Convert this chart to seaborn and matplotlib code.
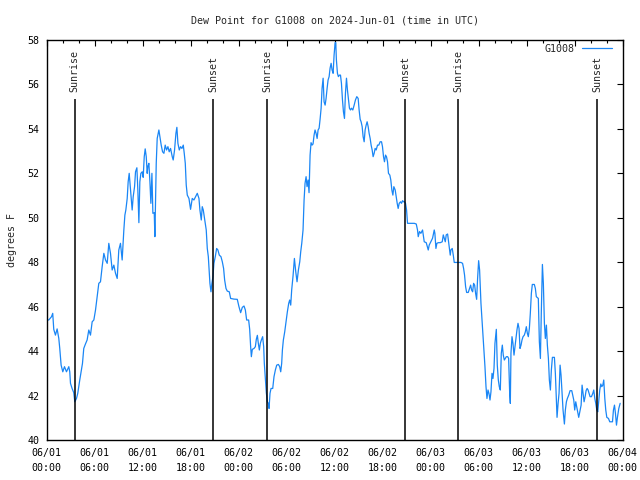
# Dew point chart for station G1008, 2024-Jun-01 .. 06/04 (UTC)

import pandas as pd
import matplotlib
matplotlib.use("Agg")
import matplotlib.pyplot as plt
import matplotlib.dates as mdates
import seaborn as sns

# ==========================================
# DATA (hours after 2024-06-01 00:00 UTC, degrees F)
# ==========================================

hours = [
    0.10, 0.25, 0.60, 0.75, 0.88, 1.09, 1.30, 1.51, 1.63, 1.80, 2.01, 2.22, 2.47, 2.76, 2.88, 2.97,
    3.17, 3.38, 3.51, 3.72, 3.88, 4.13, 4.30, 4.47, 4.63, 4.84, 5.05, 5.26, 5.47, 5.68, 5.89, 6.10,
    6.30, 6.51, 6.72, 6.93, 7.14, 7.35, 7.56, 7.76, 7.97, 8.18, 8.39, 8.60, 8.81, 9.01, 9.22, 9.43,
    9.64, 9.77, 9.89, 10.06, 10.18, 10.31, 10.43, 10.56, 10.68, 10.81, 10.98, 11.10, 11.27, 11.39,
    11.52, 11.64, 11.77, 11.94, 12.06, 12.19, 12.31, 12.44, 12.56, 12.64, 12.77, 12.90, 13.02, 13.15,
    13.27, 13.44, 13.52, 13.69, 13.81, 14.02, 14.15, 14.31, 14.48, 14.65, 14.81, 14.98, 15.15, 15.31,
    15.48, 15.69, 15.81, 15.98, 16.15, 16.27, 16.40, 16.57, 16.73, 16.90, 17.07, 17.19, 17.32, 17.44,
    17.57, 17.78, 17.98, 18.19, 18.40, 18.61, 18.82, 19.03, 19.15, 19.32, 19.44, 19.57, 19.69, 19.82,
    19.94, 20.07, 20.20, 20.28, 20.40, 20.53, 20.65, 20.78, 20.90, 21.07, 21.24, 21.40, 21.57, 21.78,
    21.95, 22.11, 22.24, 22.41, 22.57, 22.82, 22.99, 23.41, 23.82, 24.03, 24.24, 24.45, 24.66, 24.83,
    24.99, 25.24, 25.37, 25.49, 25.58, 25.70, 25.91, 26.08, 26.20, 26.33, 26.45, 26.58, 26.70, 26.83,
    26.99, 27.12, 27.20, 27.33, 27.45, 27.58, 27.70, 27.79, 27.91, 28.04, 28.25, 28.41, 28.58, 28.75,
    28.96, 29.12, 29.25, 29.37, 29.46, 29.58, 29.75, 29.92, 30.08, 30.25, 30.37, 30.50, 30.62, 30.79,
    30.96, 31.13, 31.29, 31.46, 31.63, 31.75, 31.88, 32.04, 32.17, 32.29, 32.42, 32.54, 32.67, 32.79,
    32.92, 33.04, 33.17, 33.29, 33.42, 33.54, 33.67, 33.80, 33.92, 34.05, 34.17, 34.30, 34.42, 34.55,
    34.67, 34.80, 34.92, 35.05, 35.17, 35.30, 35.42, 35.55, 35.67, 35.80, 35.92, 36.05, 36.13, 36.21,
    36.34, 36.46, 36.59, 36.72, 36.84, 36.97, 37.09, 37.22, 37.34, 37.47, 37.59, 37.72, 37.84, 37.97,
    38.09, 38.26, 38.43, 38.59, 38.76, 38.93, 39.05, 39.18, 39.30, 39.43, 39.55, 39.68, 39.80, 39.93,
    40.05, 40.18, 40.30, 40.43, 40.55, 40.68, 40.80, 40.93, 41.05, 41.18, 41.35, 41.51, 41.68, 41.85,
    41.97, 42.10, 42.22, 42.35, 42.47, 42.60, 42.72, 42.89, 43.01, 43.14, 43.27, 43.39, 43.56, 43.68,
    43.81, 43.93, 44.06, 44.23, 44.35, 44.48, 44.60, 44.73, 44.85, 44.98, 45.10, 45.52, 45.94, 46.19,
    46.35, 46.44, 46.60, 46.77, 46.98, 47.19, 47.44, 47.69, 47.81, 48.02, 48.23, 48.44, 48.52, 48.65,
    48.77, 48.94, 49.19, 49.44, 49.57, 49.69, 49.82, 49.94, 50.11, 50.23, 50.36, 50.44, 50.52, 50.69,
    50.82, 50.94, 51.36, 51.78, 51.98, 52.11, 52.23, 52.36, 52.49, 52.69, 52.86, 52.99, 53.11, 53.24,
    53.36, 53.49, 53.61, 53.74, 53.86, 53.99, 54.11, 54.20, 54.28, 54.40, 54.53, 54.65, 54.78, 54.91,
    55.03, 55.16, 55.28, 55.41, 55.53, 55.66, 55.78, 55.91, 56.03, 56.20, 56.32, 56.45, 56.57, 56.70,
    56.82, 56.95, 57.07, 57.20, 57.32, 57.45, 57.62, 57.74, 57.87, 57.95, 58.03, 58.16, 58.28, 58.41,
    58.53, 58.66, 58.78, 58.91, 59.04, 59.16, 59.29, 59.41, 59.54, 59.70, 59.83, 59.95, 60.08, 60.20,
    60.33, 60.45, 60.58, 60.70, 60.95, 61.08, 61.20, 61.45, 61.58, 61.71, 61.83, 61.96, 62.08, 62.21,
    62.33, 62.46, 62.58, 62.71, 62.83, 62.96, 63.08, 63.21, 63.46, 63.58, 63.71, 63.79, 63.92, 64.04,
    64.17, 64.29, 64.42, 64.54, 64.71, 64.83, 64.96, 65.08, 65.25, 65.42, 65.63, 65.75, 65.88, 66.00,
    66.13, 66.25, 66.38, 66.50, 66.63, 66.80, 66.92, 67.05, 67.17, 67.30, 67.42, 67.55, 67.67, 67.80,
    67.92, 68.09, 68.26, 68.38, 68.51, 68.63, 68.76, 68.88, 69.01, 69.13, 69.26, 69.38, 69.51, 69.63,
    69.76, 69.88, 70.01, 70.22, 70.38, 70.55, 70.72, 70.84, 70.97, 71.09, 71.22, 71.34, 71.51, 71.68,
]

dewpoint = [
    45.40, 45.40, 45.55, 45.70, 44.98, 44.72, 45.00, 44.57, 44.12, 43.37, 43.07, 43.30, 43.07, 43.30, 43.07, 42.55,
    42.32, 42.13, 41.72, 41.87, 42.10, 42.70, 43.07, 43.45, 44.12, 44.32, 44.50, 44.95, 44.72, 45.32, 45.40, 45.85,
    46.45, 47.05, 47.12, 47.80, 48.40, 48.10, 47.95, 48.85, 48.40, 47.65, 47.87, 47.50, 47.27, 48.55, 48.85, 48.10,
    49.45, 50.12, 50.35, 50.87, 51.62, 52.00, 51.47, 50.87, 50.35, 50.95, 51.40, 52.07, 52.25, 51.25,
    49.78, 51.62, 52.00, 52.07, 51.82, 52.75, 53.10, 52.75, 52.00, 52.30, 52.45, 51.62, 50.65, 52.00,
    50.20, 50.23, 49.15, 52.45, 53.57, 53.95, 53.65, 53.27, 52.97, 52.90, 53.27, 53.05, 53.20, 52.97,
    53.12, 52.75, 52.60, 53.05, 53.80, 54.07, 53.35, 53.05, 53.20, 53.12, 53.27, 52.90, 52.45, 51.47,
    51.02, 50.87, 50.38, 50.87, 50.80, 50.95, 51.10, 50.87, 50.35, 49.90, 50.50, 50.35, 50.05, 49.75,
    49.45, 48.62, 48.25, 47.80, 47.05, 46.67, 47.05, 47.35, 47.95, 48.25, 48.62, 48.55, 48.32, 48.25,
    48.02, 47.72, 47.20, 46.82, 46.70, 46.67, 46.37, 46.34, 46.33, 46.00, 45.73, 45.97, 46.03, 45.85,
    45.40, 45.40, 44.98, 44.20, 43.75, 44.08, 44.12, 44.20, 44.53, 44.71, 44.35, 44.05, 44.35, 44.50,
    44.65, 44.20, 43.45, 42.77, 42.13, 41.72, 41.65, 41.42, 42.10, 42.32, 42.32, 42.85, 43.15, 43.37,
    43.40, 43.30, 43.07, 43.45, 44.05, 44.50, 44.87, 45.32, 45.77, 46.15, 46.30, 46.07, 46.75, 47.38,
    48.17, 47.57, 47.12, 47.65, 48.02, 48.47, 48.85, 49.45, 50.80, 51.55, 51.85, 51.40, 51.70, 51.13,
    52.82, 53.38, 53.27, 53.32, 53.72, 53.95, 53.80, 53.57, 53.95, 54.03, 54.43, 54.93, 55.83, 56.28,
    55.22, 55.07, 55.37, 55.83, 56.20, 56.35, 56.73, 56.95, 56.65, 56.50, 57.32, 57.88, 57.88, 57.10,
    56.50, 56.35, 56.42, 56.42, 56.05, 55.30, 54.77, 54.47, 55.60, 56.28, 55.75, 55.30, 54.93, 54.85,
    54.93, 54.85, 55.07, 55.30, 55.45, 55.37, 54.85, 54.43, 54.32, 54.10, 53.65, 53.42, 53.95, 54.17,
    54.32, 54.10, 53.80, 53.57, 53.27, 53.05, 52.75, 52.90, 53.12, 53.05, 53.27, 53.27, 53.42, 53.42,
    53.20, 52.75, 52.52, 52.82, 52.75, 52.52, 52.00, 51.92, 51.70, 51.25, 51.02, 51.40, 51.25, 50.95,
    50.65, 50.42, 50.65, 50.72, 50.65, 50.77, 50.72, 50.72, 50.65, 50.35, 49.75, 49.75, 49.75, 49.72,
    49.45, 49.15, 49.38, 49.30, 49.45, 48.92, 48.88, 48.55, 48.77, 48.92, 49.08, 49.45, 49.30, 48.62,
    48.85, 48.88, 48.88, 48.92, 49.23, 49.08, 48.92, 49.23, 49.27, 48.92, 48.55, 48.32, 48.55, 48.62,
    48.32, 47.99, 47.99, 47.99, 47.95, 47.72, 47.42, 46.90, 46.64, 46.64, 46.82, 46.97, 46.75, 46.67,
    47.05, 46.97, 46.60, 46.33, 47.27, 48.07, 47.65, 46.90, 46.15, 45.47, 44.80, 44.12, 43.30, 42.40,
    41.87, 42.25, 42.10, 41.80, 42.17, 43.00, 42.77, 43.22, 44.35, 44.98, 43.37, 42.70, 42.40, 42.25,
    43.90, 44.27, 43.82, 43.60, 43.67, 43.75, 43.75, 43.67, 42.10, 41.65, 43.90, 44.65, 44.35, 43.82,
    44.20, 44.57, 44.95, 45.25, 45.02, 44.12, 44.27, 44.50, 44.65, 44.72, 44.87, 45.10, 44.80, 44.65,
    45.02, 45.70, 46.60, 47.00, 47.00, 46.82, 46.45, 46.37, 44.42, 43.67, 45.85, 47.90, 47.05, 45.25,
    44.57, 45.17, 44.27, 43.67, 42.70, 42.25, 43.15, 43.72, 43.72, 43.00, 41.72, 41.02, 41.65, 42.10,
    43.37, 42.92, 42.10, 41.35, 40.72, 41.35, 41.72, 41.87, 42.02, 42.22, 42.22, 42.02, 41.80, 41.35,
    41.72, 41.50, 41.27, 41.02, 41.27, 41.57, 42.47, 42.10, 41.72, 41.95, 42.22, 42.32, 42.25, 42.10,
    41.95, 41.95, 42.10, 42.25, 41.87, 41.65, 41.35, 41.27, 41.80, 42.25, 42.52, 42.40, 42.47, 42.70,
    41.87, 41.35, 41.02, 40.97, 40.82, 40.82, 40.82, 41.35, 41.57, 41.20, 40.67, 41.02, 41.42, 41.65,
]

sun_hours = [3.50, 20.78, 27.53, 44.80, 51.44, 68.84]
sun_labels = ["Sunrise", "Sunset", "Sunrise", "Sunset", "Sunrise", "Sunset"]

station = "G1008"
start = pd.Timestamp("2024-06-01 00:00")

# ==========================================
# BUILD TABLE
# ==========================================

df = pd.DataFrame({
    "time": start + pd.to_timedelta(hours, unit="h"),
    "dewpoint": dewpoint,
})
sun_times = start + pd.to_timedelta(sun_hours, unit="h")

# ==========================================
# PLOT
# ==========================================

sns.set_style("white")
plt.rcParams["font.family"] = ["DejaVu Sans Mono"]
plt.rcParams["font.size"] = 7.2

fig = plt.figure(figsize=(6.4, 4.8), dpi=100)
ax = fig.add_axes([0.073, 0.0833, 0.9, 0.8334])

sns.lineplot(
    data=df,
    x="time",
    y="dewpoint",
    color="#1a86f5",
    linewidth=0.9,
    estimator=None,
    label=station,
    ax=ax
)

# sunrise / sunset markers
ax.vlines(sun_times, 40, 55.35, color="black", linewidth=1.1)
for t, lab in zip(sun_times, sun_labels):
    ax.text(t, 55.67, lab, rotation=90, ha="center", va="bottom", fontsize=7.2)

ax.set_xlim(start, start + pd.Timedelta(hours=72))
ax.set_ylim(40, 58)
ax.set_yticks(range(40, 59, 2))

ax.xaxis.set_major_locator(mdates.HourLocator(byhour=range(0, 24, 6)))
ax.xaxis.set_minor_locator(mdates.HourLocator(byhour=range(0, 24, 2)))
ax.xaxis.set_major_formatter(mdates.DateFormatter("%m/%d\n%H:%M"))

ax.tick_params(which="both", direction="in", top=True, right=True, colors="black", labelsize=7.2)
ax.tick_params(which="major", length=4, width=0.8)
ax.tick_params(which="minor", length=2, width=0.8)
ax.tick_params(axis="x", pad=6)
ax.tick_params(axis="y", pad=5)
plt.setp(ax.get_xticklabels(), linespacing=1.55)

for s in ax.spines.values():
    s.set_visible(True)
    s.set_color("black")
    s.set_linewidth(1.0)

ax.set_xlabel("")
ax.set_ylabel("degrees F", fontsize=7.2)
ax.yaxis.set_label_coords(-0.052, 0.5)
ax.set_title("Dew Point for G1008 on 2024-Jun-01 (time in UTC)", fontsize=7.2, pad=12)

ax.legend(
    loc="upper right",
    bbox_to_anchor=(0.982, 0.99),
    frameon=False,
    markerfirst=False,
    handlelength=3.0,
    fontsize=7.2,
    borderaxespad=0,
    borderpad=0
)

plt.savefig("out.png", dpi=100)
